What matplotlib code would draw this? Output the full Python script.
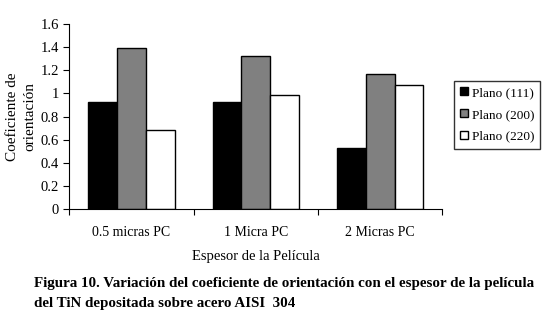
import numpy as np
import matplotlib.pyplot as plt

# datos
categorias = ["0.5 micras PC", "1 Micra PC", "2 Micras PC"]
plano111 = [0.93, 0.93, 0.53]
plano200 = [1.39, 1.32, 1.165]
plano220 = [0.68, 0.99, 1.07]
series = ["Plano (111)", "Plano (200)", "Plano (220)"]
colores = ["#000000", "#808080", "#ffffff"]

plt.rcParams['font.family'] = ['Liberation Serif', 'DejaVu Serif']

fig = plt.figure(figsize=(5.42, 3.21), dpi=100)
ax = fig.add_axes([0.128, 0.349, 0.688, 0.576])

x = np.arange(len(categorias))
w = 0.232
for i, (vals, nombre, c) in enumerate(zip([plano111, plano200, plano220], series, colores)):
    ax.bar(x + (i - 1) * w, vals, w, color=c, edgecolor="black", linewidth=1.0, label=nombre)

ax.set_xlim(-0.5, 2.5)
ax.set_ylim(0, 1.6)
ax.set_yticks(np.arange(0, 1.61, 0.2))
ax.set_yticklabels(["0", "0.2", "0.4", "0.6", "0.8", "1", "1.2", "1.4", "1.6"])
ax.set_xticks([-0.5, 0.5, 1.5, 2.5])
ax.set_xticklabels([])
ax.set_xticks(x, minor=True)
ax.set_xticklabels(categorias, minor=True)
ax.tick_params(axis="x", which="minor", length=0, pad=12, labelsize=10)
ax.tick_params(axis="x", which="major", length=4, direction="out")
ax.tick_params(axis="y", length=4, direction="out", labelsize=10.5)
ax.spines["top"].set_visible(False)
ax.spines["right"].set_visible(False)

ax.set_xlabel("Espesor de la Película", fontsize=10.5, labelpad=8)
ax.set_ylabel("Coeficiente de\norientación", fontsize=11, labelpad=3, linespacing=1.45)

leg = ax.legend(loc="upper left", frameon=True, fancybox=False, edgecolor="black", fontsize=9.5,
                handlelength=0.6, handleheight=0.6, handletextpad=0.3, borderpad=0.45,
                labelspacing=0.75, borderaxespad=0)
leg.set_bbox_to_anchor((454 / 542, 1 - 81 / 321), transform=fig.transFigure)
leg.get_frame().set_linewidth(1.0)

fig.text(0.062, 0.105, "Figura 10. Variación del coeficiente de orientación con el espesor de la película",
         fontsize=10.8, fontweight="bold", va="baseline")
fig.text(0.062, 0.045, "del TiN depositada sobre acero AISI  304",
         fontsize=10.8, fontweight="bold", va="baseline")

fig.savefig("out.png", dpi=100)
